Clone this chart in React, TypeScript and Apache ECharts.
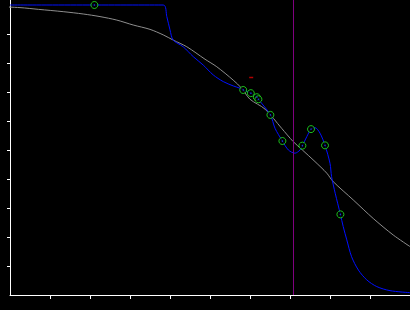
import React, { useEffect, useRef } from "react";
import * as echarts from "echarts";

// Gray smooth fit curve [x, y]
const fitCurve: [number, number][] = [
  [-0.25, 0.994], [0.25, 0.991], [0.71, 0.985], [1.33, 0.977], [1.83, 0.969],
  [2.25, 0.96], [2.67, 0.948], [3.08, 0.931], [3.5, 0.916], [3.83, 0.897],
  [4.08, 0.879], [4.42, 0.856], [4.875, 0.813], [5.17, 0.787], [5.58, 0.741],
  [5.79, 0.713], [6.0, 0.675], [6.375, 0.641], [6.79, 0.575], [7.08, 0.529],
  [7.31, 0.5], [7.625, 0.46], [7.92, 0.42], [8.08, 0.391], [8.58, 0.328],
  [9.08, 0.264], [9.58, 0.207], [10, 0.167],
];

// Blue interpolating curve [x, y]
const interpCurve: [number, number][] = [
  [0, 1.0], [3.83, 1.0], [3.92, 0.96], [4.0, 0.914], [4.08, 0.879],
  [4.33, 0.856], [4.58, 0.822], [4.83, 0.793], [5.08, 0.759], [5.33, 0.736],
  [5.58, 0.721], [5.75, 0.713], [5.83, 0.707], [6.02, 0.696], [6.17, 0.682],
  [6.21, 0.675], [6.51, 0.621], [6.625, 0.575], [6.81, 0.531], [6.96, 0.5],
  [7.125, 0.489], [7.25, 0.5], [7.31, 0.515], [7.42, 0.546], [7.525, 0.572],
  [7.625, 0.577], [7.75, 0.558], [7.875, 0.516], [8.0, 0.454], [8.04, 0.408],
  [8.13, 0.351], [8.26, 0.278], [8.33, 0.236], [8.42, 0.19], [8.54, 0.132],
  [8.71, 0.086], [8.92, 0.052], [9.17, 0.029], [9.5, 0.015], [10, 0.008],
];

// Green sample points [x, y]
const samplePoints: [number, number][] = [
  [2.11, 1.0], [5.83, 0.707], [6.02, 0.696], [6.17, 0.682], [6.21, 0.675],
  [6.51, 0.621], [6.81, 0.531], [7.31, 0.515], [7.525, 0.572], [7.875, 0.516],
  [8.26, 0.278],
];

// Small red marker
const markerPoint: [number, number][] = [[6.03, 0.75]];

// Vertical cursor position
const cursorX = 7.08;

// Axis ticks
const xTicks = [1, 2, 3, 4, 5, 6, 7, 8, 9];
const yTicks = [0.1, 0.2, 0.3, 0.4, 0.5, 0.6, 0.7, 0.8, 0.9];

export default function App() {
  const ref = useRef<HTMLDivElement>(null);
  useEffect(() => {
    if (!ref.current) return;
    const chart = echarts.init(ref.current, null, { renderer: "svg" });
    chart.setOption({
      animation: false,
      backgroundColor: "#000",
      grid: { left: 10, right: 0, top: 0, bottom: 15 },
      xAxis: {
        type: "value",
        min: 0,
        max: 10,
        splitLine: { show: false },
        axisLine: { show: true, lineStyle: { color: "#fff", width: 1 } },
        axisTick: { show: true, length: 4, customValues: xTicks, lineStyle: { color: "#fff", width: 1 } },
        axisLabel: { show: false },
      },
      yAxis: {
        type: "value",
        min: 0,
        max: 295 / 290,
        splitLine: { show: false },
        axisLine: { show: true, lineStyle: { color: "#fff", width: 1 } },
        axisTick: { show: true, length: 3, customValues: yTicks, lineStyle: { color: "#fff", width: 1 } },
        axisLabel: { show: false },
      },
      series: [
        {
          type: "line",
          data: fitCurve,
          smooth: 0.3,
          clip: false,
          showSymbol: false,
          lineStyle: { color: "#8e8e8e", width: 1 },
          z: 2,
        },
        {
          type: "line",
          data: [],
          markLine: {
            silent: true,
            symbol: "none",
            label: { show: false },
            lineStyle: { color: "#800080", width: 1, type: "solid" },
            data: [{ xAxis: cursorX }],
          },
          z: 3,
        },
        {
          type: "line",
          data: interpCurve,
          smooth: 0.3,
          showSymbol: false,
          lineStyle: { color: "#0010ff", width: 1 },
          z: 4,
        },
        {
          type: "scatter",
          data: samplePoints,
          symbol: "circle",
          symbolSize: 7,
          itemStyle: { color: "#000", borderColor: "#22ee22", borderWidth: 1 },
          z: 5,
        },
        {
          type: "scatter",
          data: samplePoints,
          symbol: "circle",
          symbolSize: 1.5,
          itemStyle: { color: "#2040ff" },
          z: 6,
        },
        {
          type: "scatter",
          data: markerPoint,
          symbol: "rect",
          symbolSize: [4, 1.5],
          itemStyle: { color: "#e00000" },
          z: 6,
        },
      ],
    });
    return () => chart.dispose();
  }, []);
  return (
    <div
      ref={ref}
      style={{ position: "fixed", left: 0, top: 0, width: 410, height: 310, background: "#000" }}
    />
  );
}
